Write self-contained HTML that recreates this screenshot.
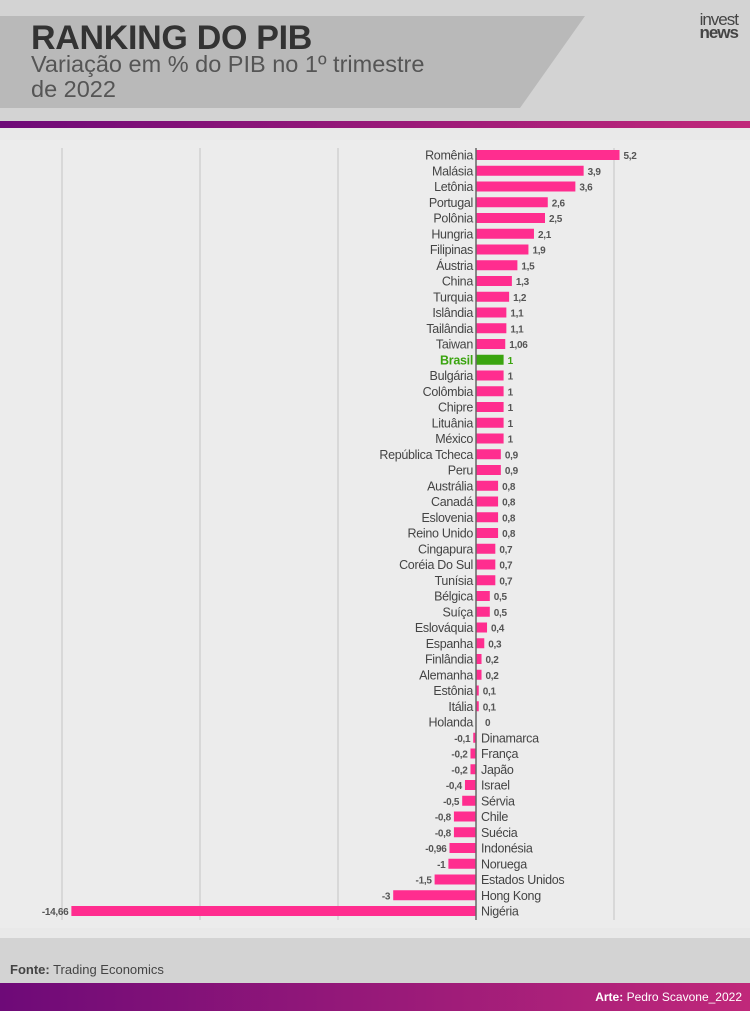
<!DOCTYPE html>
<html><head><meta charset="utf-8"><style>
body{margin:0;width:750px;height:1011px;overflow:hidden;background:#d3d3d3;font-family:"Liberation Sans",sans-serif;position:relative}
.abs{position:absolute}
</style></head><body>
<div class="abs" style="left:0;top:0;width:750px;height:120px;background:#d3d3d3"></div>
<svg class="abs" style="left:0;top:0" width="750" height="120"><polygon points="0,16 585,16 520,108 0,108" fill="#b9b9b9"/></svg>
<div class="abs" style="left:31px;top:19px;font-size:34px;font-weight:bold;color:#333;letter-spacing:-0.3px">RANKING DO PIB</div>
<div class="abs" style="left:31px;top:52px;font-size:23.5px;color:#555;line-height:25px">Variação em % do PIB no 1º trimestre<br>de 2022</div>
<div class="abs" style="left:680px;top:13px;width:58px;font-size:17px;color:#444;line-height:13px;text-align:right;letter-spacing:-1px">invest<br><b>news</b></div>
<div class="abs" style="left:0;top:121px;width:750px;height:7px;background:linear-gradient(90deg,#6e0a78,#c0287a)"></div>
<div class="abs" style="left:0;top:128px;width:750px;height:810px;background:#e9e9e9"></div>
<div class="abs" style="left:0;top:140px;width:750px;height:788px;background:#ececec"></div>
<svg id="chart" class="abs" style="left:0;top:0" width="750" height="940"></svg>
<div class="abs" style="left:10px;top:962px;font-size:13px;color:#444"><b>Fonte:</b> Trading Economics</div>
<div class="abs" style="left:0;top:983px;width:750px;height:28px;background:linear-gradient(90deg,#6e0a78,#c0287a)"></div>
<div class="abs" style="right:8px;top:990px;font-size:12px;color:#fff"><b>Arte:</b> Pedro Scavone_2022</div>
<script>
const countries=["Romênia","Malásia","Letônia","Portugal","Polônia","Hungria","Filipinas","Áustria","China","Turquia","Islândia","Tailândia","Taiwan","Brasil","Bulgária","Colômbia","Chipre","Lituânia","México","República Tcheca","Peru","Austrália","Canadá","Eslovenia","Reino Unido","Cingapura","Coréia Do Sul","Tunísia","Bélgica","Suíça","Eslováquia","Espanha","Finlândia","Alemanha","Estônia","Itália","Holanda","Dinamarca","França","Japão","Israel","Sérvia","Chile","Suécia","Indonésia","Noruega","Estados Unidos","Hong Kong","Nigéria"];
const values=[5.2,3.9,3.6,2.6,2.5,2.1,1.9,1.5,1.3,1.2,1.1,1.1,1.06,1,1,1,1,1,1,0.9,0.9,0.8,0.8,0.8,0.8,0.7,0.7,0.7,0.5,0.5,0.4,0.3,0.2,0.2,0.1,0.1,0,-0.1,-0.2,-0.2,-0.4,-0.5,-0.8,-0.8,-0.96,-1,-1.5,-3,-14.66];
const gridTicks=[-15,-10,-5,0,5];
const NS="http://www.w3.org/2000/svg",svg=document.getElementById('chart');
const x=v=>476+v*27.6, y=i=>155+i*15.75;
function mk(t,a){const e=document.createElementNS(NS,t);for(const k in a)e.setAttribute(k,a[k]);svg.appendChild(e);return e;}
gridTicks.forEach(t=>{if(t===0)return;const l=mk('line',{x1:x(t),x2:x(t),y1:148,y2:920,stroke:'#c4c4c4','stroke-width':1});

});
countries.forEach((c,i)=>{const v=values[i],yy=y(i),br=c==="Brasil";
const r=mk('rect',{x:Math.min(x(v),x(0)),y:yy-5,width:Math.abs(x(v)-x(0)),height:10,fill:br?'#3aa40f':'#ff2d8f'});


const s=String(v).replace('.',',');
const lab=mk('text',{y:yy+4.5,'font-size':12.5,'letter-spacing':'-0.3',fill:br?'#3aa40f':'#444','font-weight':br?'bold':'normal','font-family':'Liberation Sans, sans-serif'});
lab.textContent=c;


const val=mk('text',{y:yy+4,'font-size':10,'letter-spacing':'-0.3','font-weight':'bold',fill:br?'#3aa40f':'#555','font-family':'Liberation Sans, sans-serif'});
val.textContent=s;


if(v>=0){lab.setAttribute('x',x(0)-3);lab.setAttribute('text-anchor','end');val.setAttribute('x',x(v)+(v===0?9:4));}
else{lab.setAttribute('x',x(0)+5);val.setAttribute('x',x(v)-3);val.setAttribute('text-anchor','end');}
});
const ax=mk('line',{x1:x(0),x2:x(0),y1:148,y2:920,stroke:'#666','stroke-width':1.5});


</script>
</body></html>
